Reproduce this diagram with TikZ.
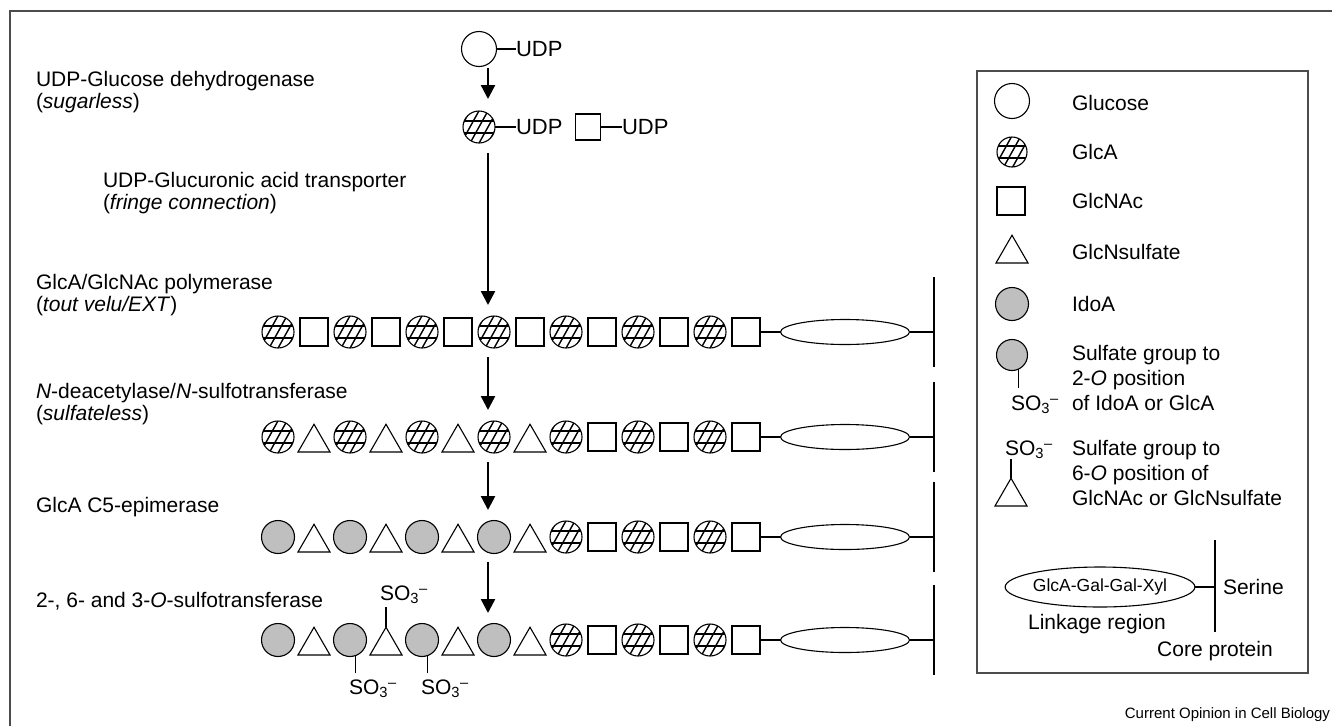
\documentclass[tikz,border=0pt]{standalone}
\usepackage{fontspec}
\setmainfont{Liberation Sans}
\usetikzlibrary{arrows.meta,shapes.geometric}
\definecolor{framegray}{gray}{0.3}
\definecolor{idoagray}{gray}{0.75}
\newcommand{\sothree}{SO\textsubscript{3}\textsuperscript{–}}
\begin{document}
\begin{tikzpicture}[x=1pt,y=-1pt,
  every node/.style={inner sep=0pt,outer sep=0pt},
  lab/.style={anchor=base west,yshift=-7.6pt,font=\fontsize{21}{23}\selectfont},
  udplab/.style={anchor=base west,yshift=-7.9pt,font=\fontsize{22}{24}\selectfont},
  shp/.style={draw,line width=1.1pt},
  hatchS/.style={path picture={
    \foreach \d in {-27,-18,-9,0,9,18,27}{
      \draw[line width=1.4pt] ([shift={({\d*1pt-10pt},-18pt)}]path picture bounding box.center) -- ++(20pt,36pt);
    }
    \draw[line width=1.3pt] ([shift={(-20pt,6pt)}]path picture bounding box.center) -- ++(40pt,0pt);
    \draw[line width=1.3pt] ([shift={(-20pt,-6pt)}]path picture bounding box.center) -- ++(40pt,0pt);
  }},
  glcS/.style={shp,circle,minimum size=35pt},
  glcaS/.style={shp,circle,minimum size=32pt,hatchS},
  glcnacS/.style={shp,rectangle,minimum width=28pt,minimum height=28pt},
  triS/.style={shp,regular polygon,regular polygon sides=3,minimum size=37pt,anchor=south,yshift=-15pt},
  idoaS/.style={shp,circle,minimum size=33pt,fill=idoagray},
  ellS/.style={shp,ellipse,minimum width=129pt,minimum height=25pt},
  link/.style={line width=1.1pt},
  arr/.style={line width=2.4pt,-{Triangle[width=14pt,length=14pt]}},
]
\fill[white] (0,0) rectangle (1332,726);
\useasboundingbox (0,0) rectangle (1332,726);
\draw[framegray,line width=1.5pt] (10,726) -- (10,11) -- (1332,11);

% top part
\node[glcS] (glc) at (479,49) {};
\node[udplab] (udp1) at (516,49) {UDP};
\draw[link] (glc.east) -- (udp1.west |- glc.east);
\coordinate (a1s) at (488,68);
\coordinate (a1e) at (488,99);
\draw[arr] (a1s) -- (a1e);
\node[glcaS] (glca0) at (479,127) {};
\node[udplab] (udp2) at (516,127) {UDP};
\draw[link] (glca0.east) -- (udp2.west |- glca0.east);
\node[glcnacS,minimum width=25pt,minimum height=26pt] (gn0) at (588,127) {};
\node[udplab] (udp3) at (622,127) {UDP};
\draw[link] (gn0.east) -- (udp3.west |- gn0.east);
\coordinate (a2s) at (488,153);
\coordinate (a2e) at (488,305);
\draw[arr] (a2s) -- (a2e);

% labels
\node[lab] (t1a) at (36,79) {UDP-Glucose dehydrogenase};
\node[lab] (t1b) at (36,101) {(\textit{sugarless})};
\node[lab] (t2a) at (103,180) {UDP-Glucuronic acid transporter};
\node[lab] (t2b) at (103,202) {(\textit{fringe connection})};
\node[lab] (t3a) at (36,282) {GlcA/GlcNAc polymerase};
\node[lab] (t3b) at (36,304) {(\textit{tout velu/EXT})};
\node[lab] (t4a) at (36,391) {\textit{N}-deacetylase/\textit{N}-sulfotransferase};
\node[lab] (t4b) at (36,413) {(\textit{sulfateless})};
\node[lab] (t5) at (36,505) {GlcA C5-epimerase};
\node[lab] (t6) at (36,600) {2-, 6- and 3-\textit{O}-sulfotransferase};

% chains
\foreach \i/\k in {0/glcaS,1/glcnacS,2/glcaS,3/glcnacS,4/glcaS,5/glcnacS,6/glcaS,7/glcnacS,8/glcaS,9/glcnacS,10/glcaS,11/glcnacS,12/glcaS,13/glcnacS}
  \node[\k] (ra\i) at ({278+36*\i},332) {};
\foreach \i/\k in {0/glcaS,1/triS,2/glcaS,3/triS,4/glcaS,5/triS,6/glcaS,7/triS,8/glcaS,9/glcnacS,10/glcaS,11/glcnacS,12/glcaS,13/glcnacS}
  \node[\k] (rb\i) at ({278+36*\i},437) {};
\foreach \i/\k in {0/idoaS,1/triS,2/idoaS,3/triS,4/idoaS,5/triS,6/idoaS,7/triS,8/glcaS,9/glcnacS,10/glcaS,11/glcnacS,12/glcaS,13/glcnacS}
  \node[\k] (rc\i) at ({278+36*\i},537) {};
\foreach \i/\k in {0/idoaS,1/triS,2/idoaS,3/triS,4/idoaS,5/triS,6/idoaS,7/triS,8/glcaS,9/glcnacS,10/glcaS,11/glcnacS,12/glcaS,13/glcnacS}
  \node[\k] (rd\i) at ({278+36*\i},640) {};

\foreach \rw/\yy in {a/332,b/437,c/537,d/640}{
  \node[ellS] (e\rw) at (845,\yy) {};
  \draw[link] (r\rw13.east) -- (e\rw.west);
  \coordinate (pt\rw) at (934,{\yy-55});
  \coordinate (pb\rw) at (934,{\yy+35});
  \draw[link] (pt\rw) -- (pb\rw);
  \draw[link] (e\rw.east) -- (e\rw.east -| pt\rw);
}

% arrows between chains
\coordinate (a3s) at (488,357);
\coordinate (a3e) at (488,410);
\draw[arr] (a3s) -- (a3e);
\coordinate (a4s) at (488,462);
\coordinate (a4e) at (488,510);
\draw[arr] (a4s) -- (a4e);
\coordinate (a5s) at (488,562);
\coordinate (a5e) at (488,613);
\draw[arr] (a5s) -- (a5e);

% sulfate groups on last chain
\coordinate (so1t) at (356,673);
\node[lab] (so1) at (349,687) {\sothree};
\draw[link] (rd2.-69) -- (rd2.-69 |- so1t);
\coordinate (so2t) at (428,673);
\node[lab] (so2) at (421,687) {\sothree};
\draw[link] (rd4.-69) -- (rd4.-69 |- so2t);
\coordinate (so3t) at (386,607);
\node[lab] (so3) at (380,593) {\sothree};
\draw[link] (rd3.north) -- (so3t);

% legend
\node[draw=framegray,line width=1.3pt,minimum width=331pt,minimum height=602pt] (legend) at (1142.5,372) {};
\node[glcS] (lg1) at (1012,101) {};
\node[lab] (lt1) at (1072,103) {Glucose};
\node[glcaS,minimum size=30pt] (lg2) at (1012,152) {};
\node[lab] (lt2) at (1072,152) {GlcA};
\node[glcnacS] (lg3) at (1011,201) {};
\node[lab] (lt3) at (1072,201) {GlcNAc};
\node[triS] (lg4) at (1012,248) {};
\node[lab] (lt4) at (1072,252) {GlcNsulfate};
\node[idoaS] (lg5) at (1012,304) {};
\node[lab] (lt5) at (1072,304) {IdoA};
\node[idoaS,minimum size=31pt] (lg6) at (1012,355) {};
\coordinate (lg6e) at (1018,388);
\draw[link] (lg6.-67) -- (lg6.-67 |- lg6e);
\node[lab] (lg6s) at (1011,403) {\sothree};
\node[lab] (lt6a) at (1072,353) {Sulfate group to};
\node[lab] (lt6b) at (1072,378) {2-\textit{O} position};
\node[lab] (lt6c) at (1072,403) {of IdoA or GlcA};
\node[triS] (lg7) at (1011,491) {};
\coordinate (lg7e) at (1011,459);
\draw[link] (lg7.north) -- (lg7e);
\node[lab] (lg7s) at (1005,448) {\sothree};
\node[lab] (lt7a) at (1072,448) {Sulfate group to};
\node[lab] (lt7b) at (1072,473) {6-\textit{O} position of};
\node[lab] (lt7c) at (1072,498) {GlcNAc or GlcNsulfate};
\node[shp,ellipse,minimum width=185pt,minimum height=40pt,font=\fontsize{17.5}{20}\selectfont] (lgl) at (1100,587) {GlcA-Gal-Gal-Xyl};
\coordinate (lgt) at (1215,540);
\coordinate (lgb) at (1215,632);
\draw[link] (lgt) -- (lgb);
\draw[link] (lgl.east) -- (lgl.east -| lgt);
\node[lab] (lser) at (1223,587) {Serine};
\node[lab,anchor=base] (llink) at (1097,622) {Linkage region};
\node[lab,anchor=base] (lcore) at (1215,649) {Core protein};

\node[anchor=base east,yshift=-5.5pt,font=\fontsize{15}{17}\selectfont] (foot) at (1330,713) {Current Opinion in Cell Biology};
\end{tikzpicture}
\end{document}
